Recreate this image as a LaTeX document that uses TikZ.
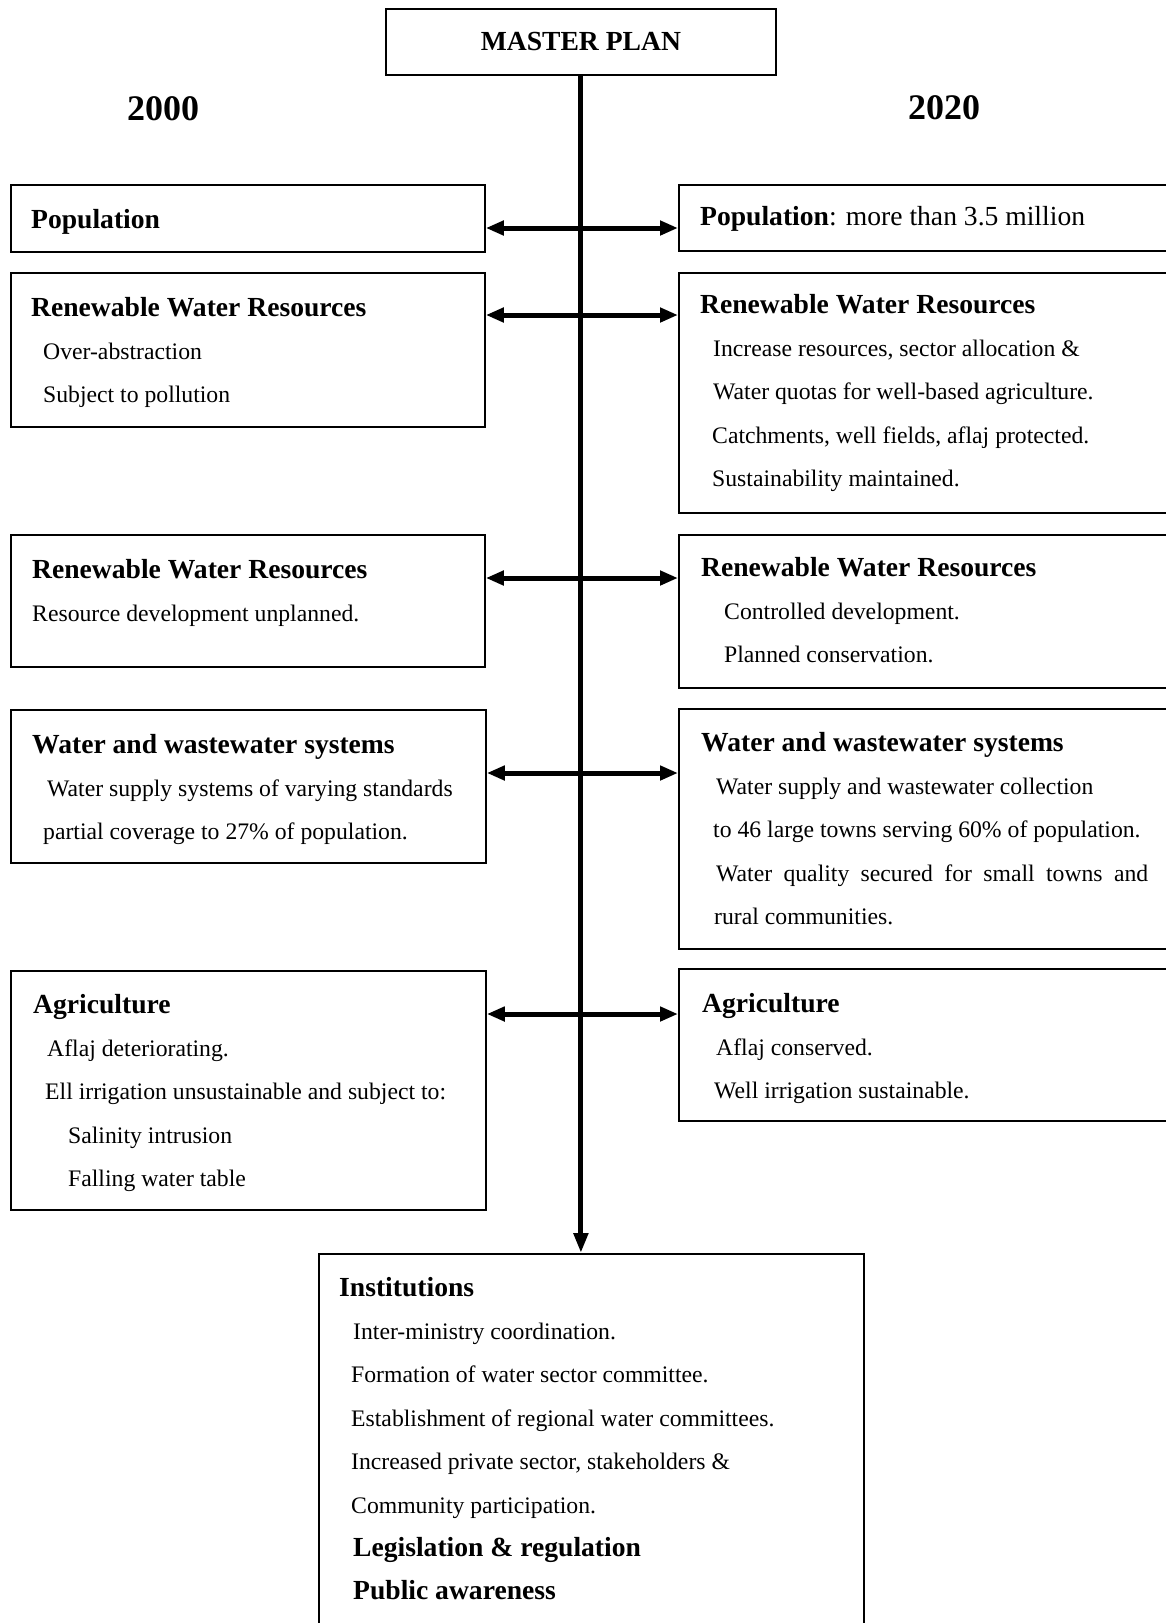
\documentclass[tikz,border=0pt]{standalone}
\usepackage{fontspec}
\setmainfont{Liberation Serif}
\usetikzlibrary{arrows.meta,calc}
\newcommand{\hd}[1]{{\fontsize{27.6}{43.4}\selectfont\bfseries #1}}
\newcommand{\ind}[1]{\hspace*{#1pt}}
\newcommand{\planbox}[6]{%
  \node[boxnd,minimum width=#4pt,minimum height=#5pt] (#1) at (#2,#3) {#6};}
\tikzset{
  boxnd/.style={rectangle,draw=black,line width=1.8pt,inner sep=0pt,anchor=north west},
  txtblk/.style={anchor=base west,inner sep=0pt,text width=#1,align=justify,
    font=\fontsize{23.7}{43.4}\selectfont},
  txtblk/.default=480pt,
  yr/.style={font=\fontsize{36}{40}\selectfont\bfseries},
  spine/.style={line width=5pt,-{Triangle[length=20pt,width=14pt]}},
  dblarr/.style={line width=5pt,{Triangle[length=18pt,width=14pt]}-{Triangle[length=18pt,width=14pt]}},
}
\begin{document}
\begin{tikzpicture}[x=1pt,y=1pt]
\useasboundingbox (0,0) rectangle (1166,-1623);
% header
\planbox{master}{385}{-8}{390}{66}{\hd{MASTER PLAN}}
\node[yr] (y2000) at (163,-109) {2000};
\node[yr] (y2020) at (944,-108) {2020};
% 2000
\planbox{popL}{10}{-184}{474}{67}{}
\planbox{rwrLa}{10}{-272}{474}{154}{}
\planbox{rwrLb}{10}{-534}{474}{132}{}
\planbox{wwsL}{10}{-709}{475}{153}{}
\planbox{agrL}{10}{-970}{475}{239}{}
\node[txtblk] (popLt) at (31,-228) {\hd{Population}};
\node[txtblk] (rwrLat) at (31,-316) {\hd{Renewable Water Resources}\\
  \ind{12}Over-abstraction\\ \ind{12}Subject to pollution};
\node[txtblk] (rwrLbt) at (32,-578) {\hd{Renewable Water Resources}\\
  Resource development unplanned.};
\node[txtblk] (wwsLt) at (32,-753) {\hd{Water and wastewater systems}\\
  \ind{15}Water supply systems of varying standards\\
  \ind{11}partial coverage to 27\% of population.};
\node[txtblk] (agrLt) at (33,-1013) {\hd{Agriculture}\\
  \ind{14}Aflaj deteriorating.\\
  \ind{12}Ell irrigation unsustainable and subject to:\\
  \ind{35}Salinity intrusion\\ \ind{35}Falling water table};
% 2020
\planbox{popR}{678}{-184}{520}{66}{}
\planbox{rwrRa}{678}{-272}{520}{240}{}
\planbox{rwrRb}{678}{-534}{520}{153}{}
\planbox{wwsR}{678}{-708}{520}{240}{}
\planbox{agrR}{678}{-968}{520}{152}{}
\node[txtblk] (popRt) at (700,-225) {\hd{Population{\mdseries: more than 3.5 million}}};
\node[txtblk] (rwrRat) at (700,-313) {\hd{Renewable Water Resources}\\
  \ind{13}Increase resources, sector allocation \&\\
  \ind{13}Water quotas for well-based agriculture.\\
  \ind{12}Catchments, well fields, aflaj protected.\\
  \ind{12}Sustainability maintained.};
\node[txtblk] (rwrRbt) at (701,-576) {\hd{Renewable Water Resources}\\
  \ind{23}Controlled development.\\ \ind{23}Planned conservation.};
\node[txtblk] (wwsRt) at (701,-751) {\hd{Water and wastewater systems}\\
  \ind{15}Water supply and wastewater collection\\
  \ind{12}to 46 large towns serving 60\% of population.\\
  \ind{15}\makebox[432pt][s]{Water quality secured for small towns and}\\
  \ind{13}rural communities.};
\node[txtblk] (agrRt) at (702,-1012) {\hd{Agriculture}\\
  \ind{14}Aflaj conserved.\\ \ind{12}Well irrigation sustainable.};
% institutions
\planbox{inst}{318}{-1253}{545}{400}{}
\node[txtblk=500pt] (instt) at (339,-1296) {\hd{Institutions}\\
  \ind{14}Inter-ministry coordination.\\
  \ind{12}Formation of water sector committee.\\
  \ind{12}Establishment of regional water committees.\\
  \ind{12}Increased private sector, stakeholders \&\\
  \ind{12}Community participation.\\
  \ind{14}\hd{Legislation \& regulation}\\
  \ind{14}\hd{Public awareness}};
% arrows
\draw[spine] (master.south) -- (master.south |- inst.north);
\coordinate (aPop) at (582,-228);
\coordinate (aRwrA) at (582,-315);
\coordinate (aRwrB) at (582,-578);
\coordinate (aWws) at (582,-773);
\coordinate (aAgr) at (582,-1014);
\draw[dblarr] (popL.east |- aPop) -- (popR.west |- aPop);
\draw[dblarr] (rwrLa.east |- aRwrA) -- (rwrRa.west |- aRwrA);
\draw[dblarr] (rwrLb.east |- aRwrB) -- (rwrRb.west |- aRwrB);
\draw[dblarr] (wwsL.east |- aWws) -- (wwsR.west |- aWws);
\draw[dblarr] (agrL.east |- aAgr) -- (agrR.west |- aAgr);
\end{tikzpicture}
\end{document}
